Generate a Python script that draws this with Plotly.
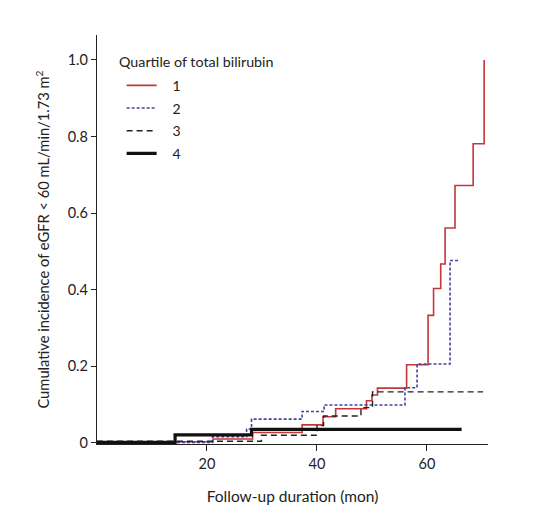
import plotly.graph_objects as go

# Quartile 1 (red solid)
q1_x = [0, 21.1, 28.3, 37.3, 41.1, 43.4, 49.0, 50.0, 51.0, 56.3, 60.2, 61.2, 62.5, 63.3, 65.1, 68.4, 70.4]
q1_y = [0.003, 0.010, 0.027, 0.047, 0.068, 0.089, 0.110, 0.125, 0.143, 0.204, 0.333, 0.403, 0.467, 0.561, 0.672, 0.781, 1.0]
# Quartile 2 (blue dotted)
q2_x = [0, 21.0, 27.2, 28.1, 37.3, 41.3, 56.0, 58.2, 64.2, 65.7]
q2_y = [0.001, 0.016, 0.036, 0.062, 0.082, 0.099, 0.144, 0.206, 0.476, 0.476]
# Quartile 3 (black dashed)
q3_x = [0, 29.9, 40.0, 41.2, 48.0, 50.1, 70.2]
q3_y = [0.004, 0.020, 0.045, 0.070, 0.092, 0.133, 0.133]
# Quartile 4 (black thick)
q4_x = [0, 14.2, 28.1, 66.3]
q4_y = [0.001, 0.021, 0.035, 0.035]

x_ticks = [20, 40, 60]
y_ticks = [0, 0.2, 0.4, 0.6, 0.8, 1.0]
y_tick_labels = ["0", "0.2", "0.4", "0.6", "0.8", "1.0"]
legend_title = "Quartile of total bilirubin"

FONT = "Lato"
PAD = "\u00a0" * 3

fig = go.Figure()
series = [
    ("1", q1_x, q1_y, dict(color="#c4363a", width=1.6, dash="solid")),
    ("2", q2_x, q2_y, dict(color="#44449a", width=1.6, dash="3px,2px")),
    ("3", q3_x, q3_y, dict(color="#222222", width=1.4, dash="6px,4px")),
    ("4", q4_x, q4_y, dict(color="#111111", width=3.2, dash="solid")),
]
for name, xs, ys, line in series:
    fig.add_trace(go.Scatter(x=xs, y=ys, mode="lines", name=PAD + name,
                             line=dict(shape="hv", **line), legendgroup=name))

fig.add_annotation(text=legend_title, xref="paper", yref="paper", x=0.051, y=0.936,
                   xanchor="left", yanchor="middle", showarrow=False,
                   font=dict(family=FONT, size=14.3, color="#222"))

fig.update_layout(
    width=536, height=499,
    margin=dict(l=89, r=56, t=27, b=63),
    paper_bgcolor="white", plot_bgcolor="white",
    font=dict(family=FONT, size=14, color="#222"),
    showlegend=True,
    legend=dict(
        x=0.063, y=0.915, xanchor="left", yanchor="top",
        font=dict(size=14),
        tracegroupgap=1.5,
        bgcolor="rgba(0,0,0,0)",
    ),
    xaxis=dict(
        range=[0, 71.1], tickvals=x_ticks, showline=True, linecolor="#222", linewidth=1.3,
        ticks="outside", ticklen=6, tickcolor="#222", showgrid=False, zeroline=False,
        tickfont=dict(size=14.5), automargin=False,
        title=dict(text="Follow-up duration (mon)", font=dict(size=15.5), standoff=20),
    ),
    yaxis=dict(
        range=[-0.003, 1.065], tickvals=y_ticks, ticktext=y_tick_labels, showline=True,
        linecolor="#222", linewidth=1.3, ticks="outside", ticklen=5, tickcolor="#222",
        showgrid=False, zeroline=False, tickfont=dict(size=14.5), automargin=False,
        title=dict(text="Cumulative incidence of eGFR < 60 mL/min/1.73 m<sup>2</sup>",
                   font=dict(size=14.7), standoff=14),
    ),
)

fig.write_html("out.html")
